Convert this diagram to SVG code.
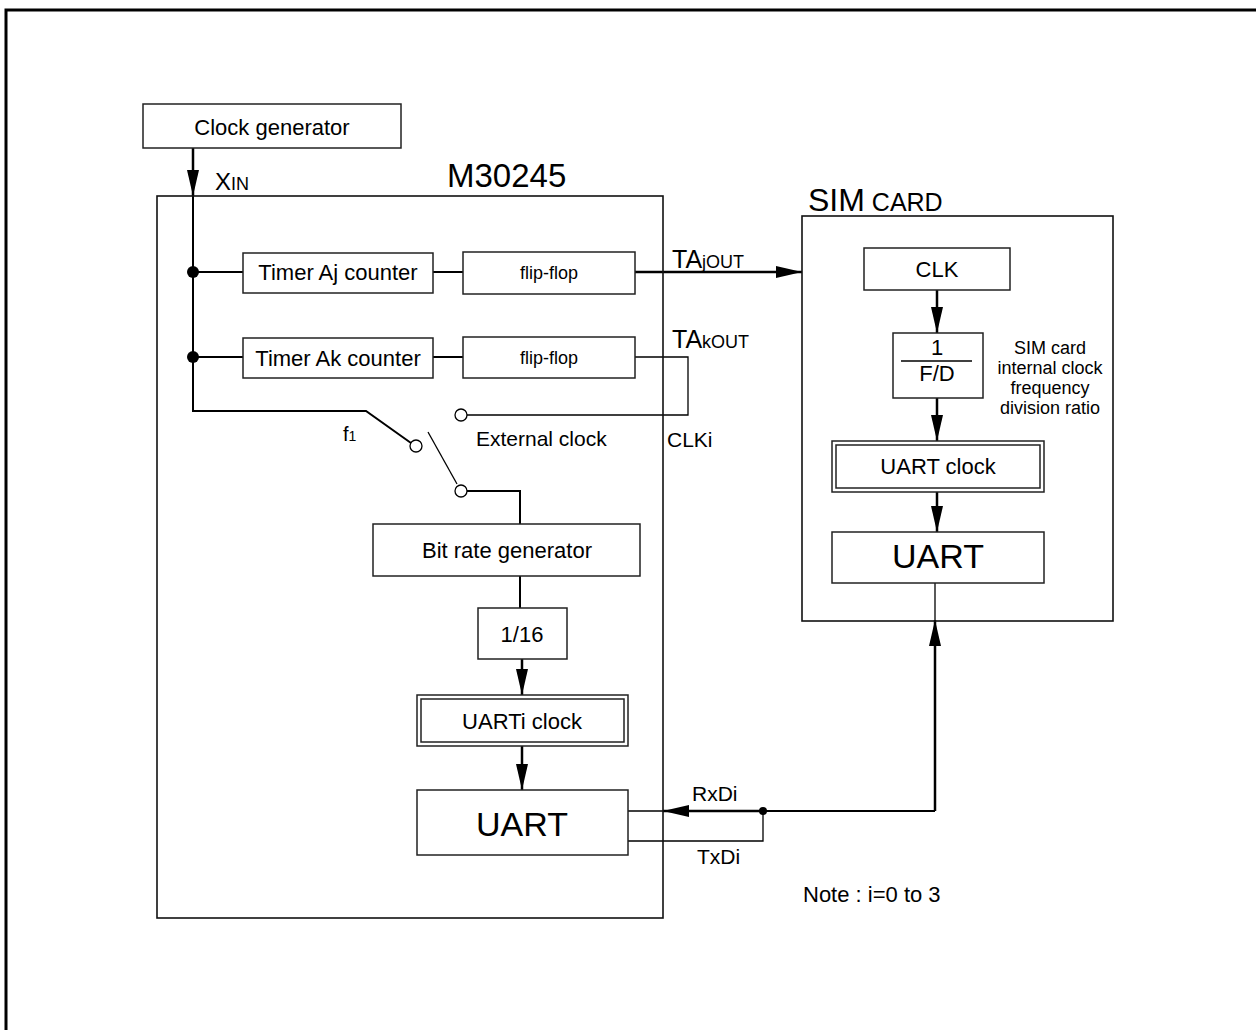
<svg xmlns="http://www.w3.org/2000/svg" width="1256" height="1030" viewBox="0 0 1256 1030">
<defs>
<marker id="ah" markerUnits="userSpaceOnUse" markerWidth="26" markerHeight="12" refX="26" refY="6" orient="auto">
<path d="M0,0 L26,6 L0,12 Z" fill="#000"/>
</marker>
<style>
text{font-family:"Liberation Sans",Arial,sans-serif;fill:#000}
.box{fill:#fff;stroke:#222;stroke-width:1.5}
.frame{fill:none;stroke:#000;stroke-width:3}
.w{fill:none;stroke:#000;stroke-width:2}
.wt{fill:none;stroke:#000;stroke-width:1.3}
.arr{fill:none;stroke:#000;stroke-width:2.5;marker-end:url(#ah)}
.t22{font-size:22px}
.t18{font-size:18px}
.mid{text-anchor:middle}
.sw{fill:#fff;stroke:#000;stroke-width:1.3}
</style>
</defs>
<rect x="6" y="10" width="1300" height="1100" class="frame"/>

<g id="connectors">
<path class="arr" d="M193,148 V196"/>
<path class="w" d="M193,196 V411 H366 L411,443"/>
<path class="w" d="M193,272 H243"/>
<path class="w" d="M433,272 H463"/>
<path class="arr" d="M635,272 H802"/>
<path class="w" d="M193,357 H243"/>
<path class="w" d="M433,357 H463"/>
<path class="wt" d="M635,357 H688 V415 H467"/>
<path class="wt" d="M428,432 L457,484"/>
<path class="w" d="M467,491 H520 V524"/>
<path class="w" d="M520,576 V608"/>
<path class="arr" d="M522,659 V695"/>
<path class="arr" d="M522,746 V790"/>
<path class="arr" d="M937,290 V333"/>
<path class="arr" d="M937,398 V441"/>
<path class="arr" d="M937,492 V532"/>
<path class="wt" d="M935,583 V620" stroke="#555"/>
<path class="arr" d="M935,811 V620"/>
<path class="w" d="M935,811 H690"/>
<path class="arr" d="M763,811 H663"/>
<path class="wt" d="M663,811 H628"/>
<path class="wt" d="M628,841 H763 V811"/>
<circle cx="193" cy="272" r="6" fill="#000"/>
<circle cx="193" cy="357" r="6" fill="#000"/>
<circle cx="763" cy="811" r="4" fill="#000"/>
<circle cx="461" cy="415" r="6" class="sw"/>
<circle cx="416" cy="446" r="6" class="sw"/>
<circle cx="461" cy="491" r="6" class="sw"/>
</g>

<g id="clock-generator">
<rect x="143" y="104" width="258" height="44" class="box"/>
<text x="272" y="135" class="t22 mid">Clock generator</text>
</g>
<text x="215" y="190" font-size="24">X<tspan font-size="18">IN</tspan></text>

<g id="m30245">
<rect x="157" y="196" width="506" height="722" fill="none" stroke="#111" stroke-width="1.6"/>
<text x="447" y="187" font-size="33">M30245</text>
</g>

<g id="timer-aj">
<rect x="243" y="253" width="190" height="40" class="box"/>
<text x="338" y="280" class="t22 mid">Timer Aj counter</text>
</g>
<g id="flipflop-aj">
<rect x="463" y="252" width="172" height="42" class="box"/>
<text x="549" y="279" class="t18 mid">flip-flop</text>
</g>
<g id="timer-ak">
<rect x="243" y="338" width="190" height="40" class="box"/>
<text x="338" y="366" class="t22 mid">Timer Ak counter</text>
</g>
<g id="flipflop-ak">
<rect x="463" y="337" width="172" height="41" class="box"/>
<text x="549" y="364" class="t18 mid">flip-flop</text>
</g>

<text x="672" y="268" font-size="25">TA<tspan font-size="18">jOUT</tspan></text>
<text x="672" y="348" font-size="25">TA<tspan font-size="18">kOUT</tspan></text>
<text x="667" y="447" font-size="21">CLKi</text>
<text x="476" y="446" font-size="21">External clock</text>
<text x="343" y="441" font-size="20">f<tspan font-size="14">1</tspan></text>

<g id="bit-rate-generator">
<rect x="373" y="524" width="267" height="52" class="box"/>
<text x="507" y="558" class="t22 mid">Bit rate generator</text>
</g>
<g id="div16">
<rect x="478" y="608" width="89" height="51" class="box"/>
<text x="522" y="642" class="t22 mid">1/16</text>
</g>
<g id="uarti-clock">
<rect x="417" y="695" width="211" height="51" class="box"/>
<rect x="421" y="699" width="203" height="43" class="box"/>
<text x="522" y="729" class="t22 mid">UARTi clock</text>
</g>
<g id="uart-m">
<rect x="417" y="790" width="211" height="65" class="box"/>
<text x="522" y="836" font-size="34" class="mid">UART</text>
</g>
<text x="692" y="801" font-size="21">RxDi</text>
<text x="697" y="864" font-size="21">TxDi</text>

<g id="sim-card">
<rect x="802" y="216" width="311" height="405" fill="none" stroke="#111" stroke-width="1.6"/>
<text x="808" y="211" font-size="32">SIM<tspan font-size="25"> CARD</tspan></text>
</g>
<g id="clk">
<rect x="864" y="248" width="146" height="42" class="box"/>
<text x="937" y="277" class="t22 mid">CLK</text>
</g>
<g id="fd">
<rect x="893" y="333" width="90" height="65" class="box"/>
<text x="937" y="355" class="t22 mid">1</text>
<line x1="901" y1="361" x2="972" y2="361" stroke="#000" stroke-width="1.3"/>
<text x="937" y="381" class="t22 mid">F/D</text>
</g>
<text x="1050" y="354" class="t18 mid">SIM card</text>
<text x="1050" y="374" class="t18 mid">internal clock</text>
<text x="1050" y="394" class="t18 mid">frequency</text>
<text x="1050" y="414" class="t18 mid">division ratio</text>
<g id="uart-clock">
<rect x="832" y="441" width="212" height="51" class="box"/>
<rect x="836" y="445" width="204" height="43" class="box"/>
<text x="938" y="474" class="t22 mid">UART clock</text>
</g>
<g id="uart-sim">
<rect x="832" y="532" width="212" height="51" class="box"/>
<text x="938" y="568" font-size="34" class="mid">UART</text>
</g>
<text x="803" y="902" class="t22">Note : i=0 to 3</text>
</svg>
